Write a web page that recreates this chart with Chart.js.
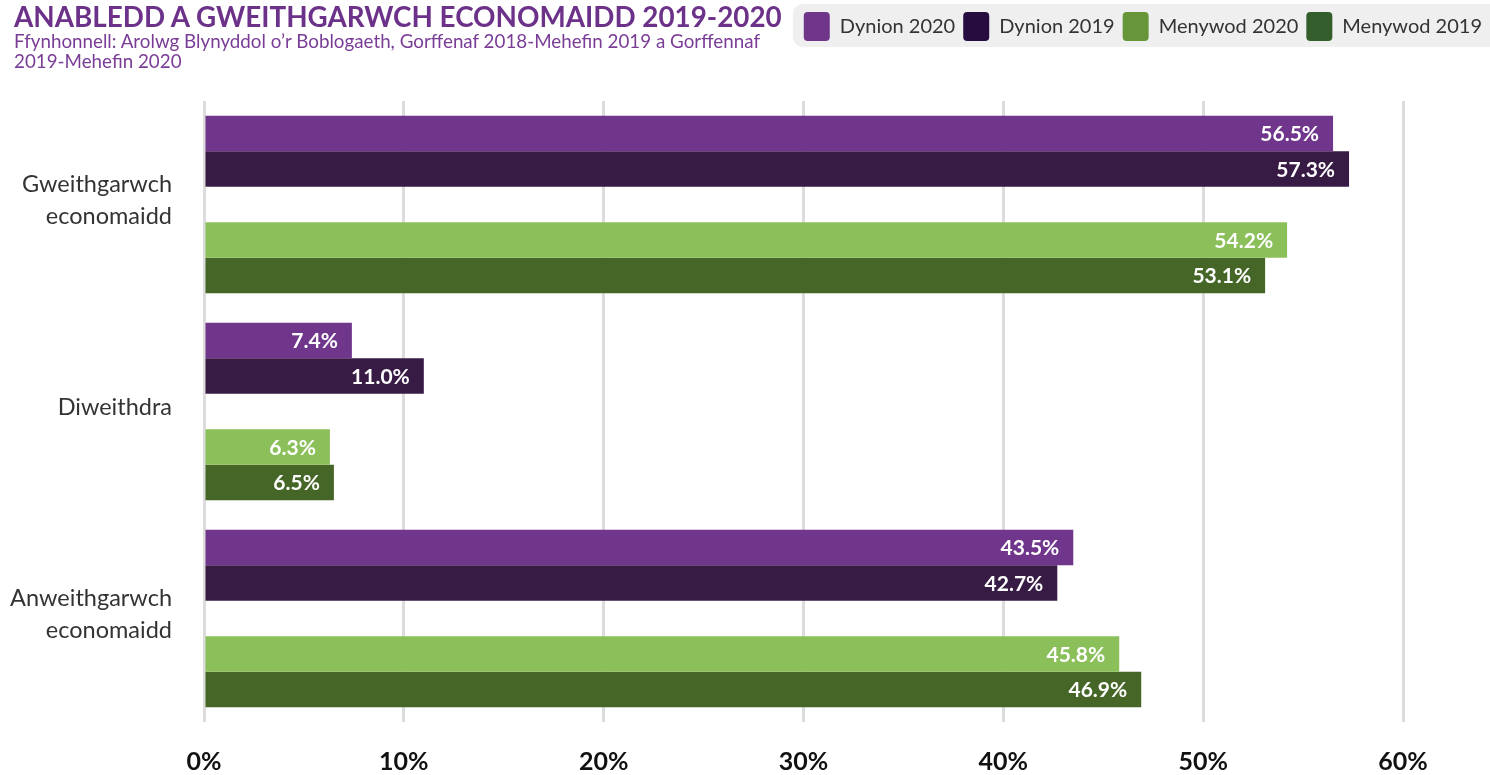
<!DOCTYPE html>
<html lang="cy">
<head>
    <meta charset="UTF-8">
    <title>Anabledd a gweithgarwch economaidd 2019-2020</title>
    <script src="https://cdn.jsdelivr.net/npm/chart.js"></script>
    <style>
        body {
            margin: 0;
            padding: 0;
            background: #fff;
            font-family: 'Lato', sans-serif;
        }

        .wrap {
            position: relative;
            width: 1490px;
            height: 775px;
        }

        .chart-title {
            position: absolute;
            left: 14px;
            top: 1px;
            color: #6c3189;
            font-weight: bold;
            font-size: 27.8px;
            line-height: 32px;
        }

        .chart-subtitle {
            position: absolute;
            left: 14px;
            top: 31px;
            color: #7a3d96;
            font-size: 18.8px;
            line-height: 20px;
        }
    </style>
</head>
<body>
<div class="wrap">
    <canvas id="chart" width="1490" height="775"></canvas>
    <div class="chart-title">ANABLEDD A GWEITHGARWCH ECONOMAIDD 2019-2020</div>
    <div class="chart-subtitle">Ffynhonnell: Arolwg Blynyddol o’r Boblogaeth, Gorffenaf 2018-Mehefin 2019 a Gorffennaf<br>2019-Mehefin 2020</div>
</div>

<script>
    // data
    const categories = [['Gweithgarwch', 'economaidd'], 'Diweithdra', ['Anweithgarwch', 'economaidd']];
    const seriesNames = ['Dynion 2020', 'Dynion 2019', 'Menywod 2020', 'Menywod 2019'];
    const dynion2020 = [56.5, 7.4, 43.5];
    const dynion2019 = [57.3, 11.0, 42.7];
    const menywod2020 = [54.2, 6.3, 45.8];
    const menywod2019 = [53.1, 6.5, 46.9];
    const xTicks = [0, 10, 20, 30, 40, 50, 60];

    const barColors = ['#6f368b', '#381b45', '#8bbf5a', '#466628'];
    const legendColors = ['#6e3589', '#260c3f', '#67963a', '#335e2b'];

    const seriesData = [dynion2020, dynion2019, menywod2020, menywod2019];
    const datasets = [];
    seriesData.forEach((vals, i) => {
        datasets.push({
            label: seriesNames[i],
            data: vals,
            backgroundColor: barColors[i],
            borderWidth: 0
        });
        // bwlch rhwng dynion a menywod
        if (i === 1) {
            datasets.push({label: '', data: categories.map(() => null), spacer: true});
        }
    });

    // labeli gwerth ar y bariau
    const barLabels = {
        id: 'barLabels',
        afterDatasetsDraw(chart) {
            const ctx = chart.ctx;
            ctx.save();
            ctx.font = 'bold 21px Lato';
            ctx.fillStyle = '#ffffff';
            ctx.textAlign = 'right';
            ctx.textBaseline = 'middle';
            chart.data.datasets.forEach((ds, di) => {
                if (ds.spacer) return;
                chart.getDatasetMeta(di).data.forEach((bar, j) => {
                    const v = ds.data[j];
                    if (v == null) return;
                    ctx.fillText(v.toFixed(1) + '%', bar.x - 14, bar.y + 1);
                });
            });
            ctx.restore();
        }
    };

    // cefndir llwyd y allwedd
    const legendBg = {
        id: 'legendBg',
        beforeDraw(chart) {
            const boxes = chart.legend.legendHitBoxes;
            if (!boxes || !boxes.length) return;
            const ctx = chart.ctx;
            const left = boxes[0].left - 11;
            ctx.save();
            ctx.fillStyle = '#efefef';
            ctx.beginPath();
            ctx.roundRect(left, 4, chart.width - left + 10, 43, 10);
            ctx.fill();
            ctx.restore();
        }
    };

    new Chart(document.getElementById('chart'), {
        type: 'bar',
        data: {labels: categories, datasets: datasets},
        plugins: [barLabels, legendBg],
        options: {
            indexAxis: 'y',
            responsive: false,
            animation: false,
            categoryPercentage: 0.857,
            barPercentage: 1,
            layout: {padding: {top: 4, right: 0, left: 0, bottom: 0}},
            plugins: {
                tooltip: {enabled: false},
                title: {
                    display: true,
                    text: '',
                    weight: 500,
                    font: {size: 10},
                    padding: {top: 0, bottom: 38}
                },
                legend: {
                    position: 'top',
                    align: 'end',
                    labels: {
                        boxWidth: 26,
                        boxHeight: 29,
                        padding: 8,
                        color: '#333',
                        font: {family: 'Lato', size: 20},
                        useBorderRadius: true,
                        borderRadius: 4,
                        filter: item => item.text !== '',
                        generateLabels(chart) {
                            return chart.data.datasets.map((ds, i) => ({
                                text: ds.label,
                                fillStyle: legendColors[seriesNames.indexOf(ds.label)] || 'transparent',
                                strokeStyle: 'transparent',
                                lineWidth: 0,
                                borderRadius: 4,
                                fontColor: '#333',
                                datasetIndex: i
                            }));
                        }
                    }
                }
            },
            scales: {
                x: {
                    min: 0,
                    max: 60,
                    afterBuildTicks: scale => {
                        scale.ticks = xTicks.map(v => ({value: v}));
                    },
                    afterFit: scale => {
                        scale.height = 53;
                    },
                    grid: {color: '#dcdcdc', lineWidth: 3, drawTicks: false},
                    border: {display: false},
                    ticks: {
                        padding: 25,
                        color: '#111',
                        font: {family: 'Lato', size: 25, weight: 'bold'},
                        callback: v => v + '%'
                    }
                },
                y: {
                    grid: {display: false, drawTicks: false},
                    border: {display: false},
                    afterFit: scale => {
                        scale.width = 204;
                        scale.paddingTop = 0;
                        scale.paddingBottom = 0;
                    },
                    ticks: {
                        padding: 32,
                        labelOffset: -4,
                        color: '#333',
                        font: {family: 'Lato', size: 23.5, lineHeight: 1.36}
                    }
                },
                // lle gwag ar y dde
                yRight: {
                    position: 'right',
                    type: 'linear',
                    display: true,
                    grid: {display: false},
                    border: {display: false},
                    ticks: {display: false},
                    afterFit: scale => {
                        scale.width = 87;
                        scale.paddingTop = 0;
                        scale.paddingBottom = 0;
                    }
                }
            }
        }
    });
</script>
</body>
</html>
